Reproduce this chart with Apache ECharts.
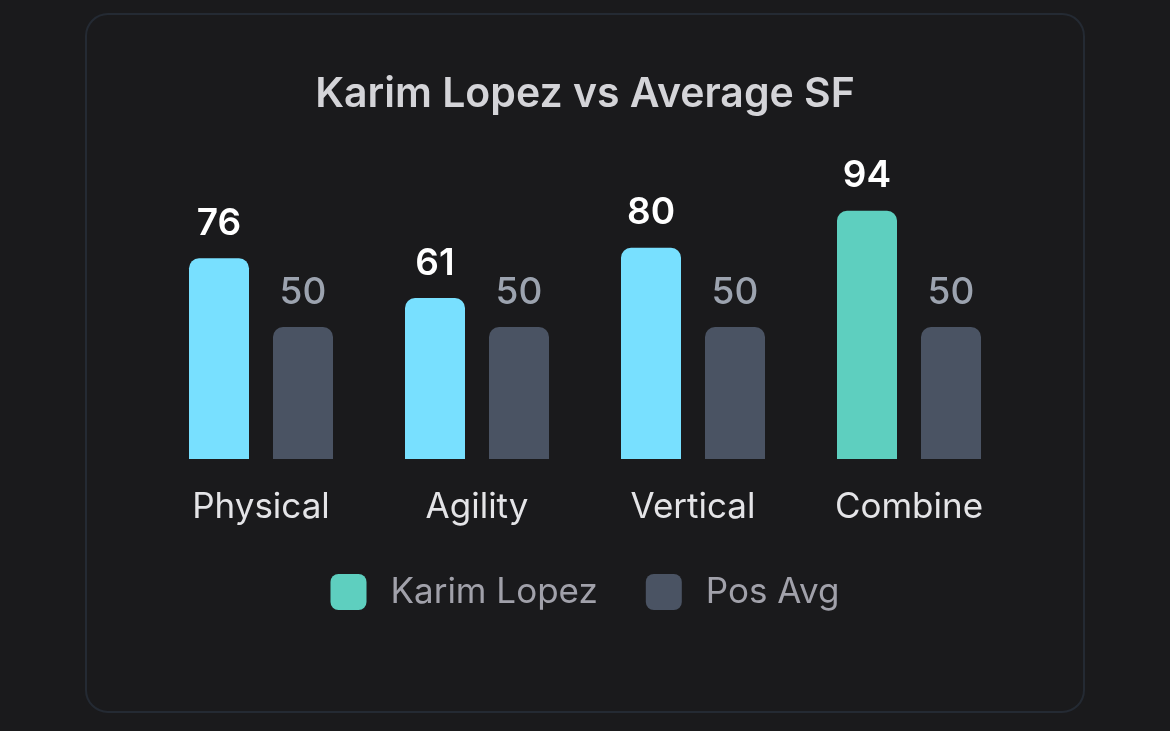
<!DOCTYPE html>
<html>
<head>
    <meta charset="utf-8">
    <title>Karim Lopez vs Average SF</title>
    <script src="https://cdn.jsdelivr.net/npm/echarts@6/dist/echarts.min.js"></script>
    <style>
        html, body { margin: 0; padding: 0; background: #1a1a1c; }
    </style>
</head>
<body>
    <div id="main" style="width: 1170px;height:731px;"></div>
    <script type="text/javascript">
        // data
        var categories = ['Physical', 'Agility', 'Vertical', 'Combine'];
        var karimValues = [76, 61, 80, 94];
        var posAvgValues = [50, 50, 50, 50];

        var cyan = '#78e0ff';
        var teal = '#5ecfbf';
        var slate = '#4a5363';

        var myChart = echarts.init(document.getElementById('main'));

        myChart.setOption({
            backgroundColor: '#1a1a1c',
            textStyle: { fontFamily: 'Inter' },
            title: {
                text: 'Karim Lopez vs Average SF',
                left: 'center',
                top: 69,
                textStyle: { color: '#d4d4d8', fontSize: 41, fontWeight: 600, fontFamily: 'Inter' }
            },
            graphic: [{
                type: 'rect',
                z: -1,
                shape: { x: 86, y: 14, width: 998, height: 698, r: 22 },
                style: { fill: '#1a1a1c', stroke: '#242a33', lineWidth: 2 }
            }],
            legend: {
                bottom: 116,
                left: 'center',
                itemWidth: 36,
                itemHeight: 36,
                itemGap: 48,
                icon: 'path://M8,0 H28 A8,8 0 0 1 36,8 V28 A8,8 0 0 1 28,36 H8 A8,8 0 0 1 0,28 V8 A8,8 0 0 1 8,0 Z',
                textStyle: { color: '#a1a1aa', fontSize: 35, padding: [0, 0, 0, 19] },
                data: [
                    { name: 'Karim Lopez', itemStyle: { color: teal } },
                    { name: 'Pos Avg', itemStyle: { color: slate } }
                ]
            },
            grid: { left: 153, right: 153, top: 195, bottom: 272 },
            xAxis: {
                type: 'category',
                data: categories,
                axisLine: { show: false },
                axisTick: { show: false },
                axisLabel: { color: '#e4e4e7', fontSize: 35, margin: 31 }
            },
            yAxis: {
                type: 'value',
                min: 0,
                max: 100,
                show: false,
                splitLine: { show: false }
            },
            series: [{
                name: 'Karim Lopez',
                type: 'bar',
                barWidth: 60,
                barGap: '40%',
                itemStyle: { color: teal, borderRadius: [10, 10, 0, 0] },
                label: {
                    show: true, position: 'top', distance: 16,
                    color: '#ffffff', fontSize: 37, fontWeight: 600
                },
                data: karimValues.map(function (v, i) {
                    return { value: v, itemStyle: { color: categories[i] === 'Combine' ? teal : cyan } };
                })
            }, {
                name: 'Pos Avg',
                type: 'bar',
                barWidth: 60,
                itemStyle: { color: slate, borderRadius: [10, 10, 0, 0] },
                label: {
                    show: true, position: 'top', distance: 16,
                    color: '#9ca3af', fontSize: 37, fontWeight: 500
                },
                data: posAvgValues
            }]
        });
    </script>
</body>
</html>
